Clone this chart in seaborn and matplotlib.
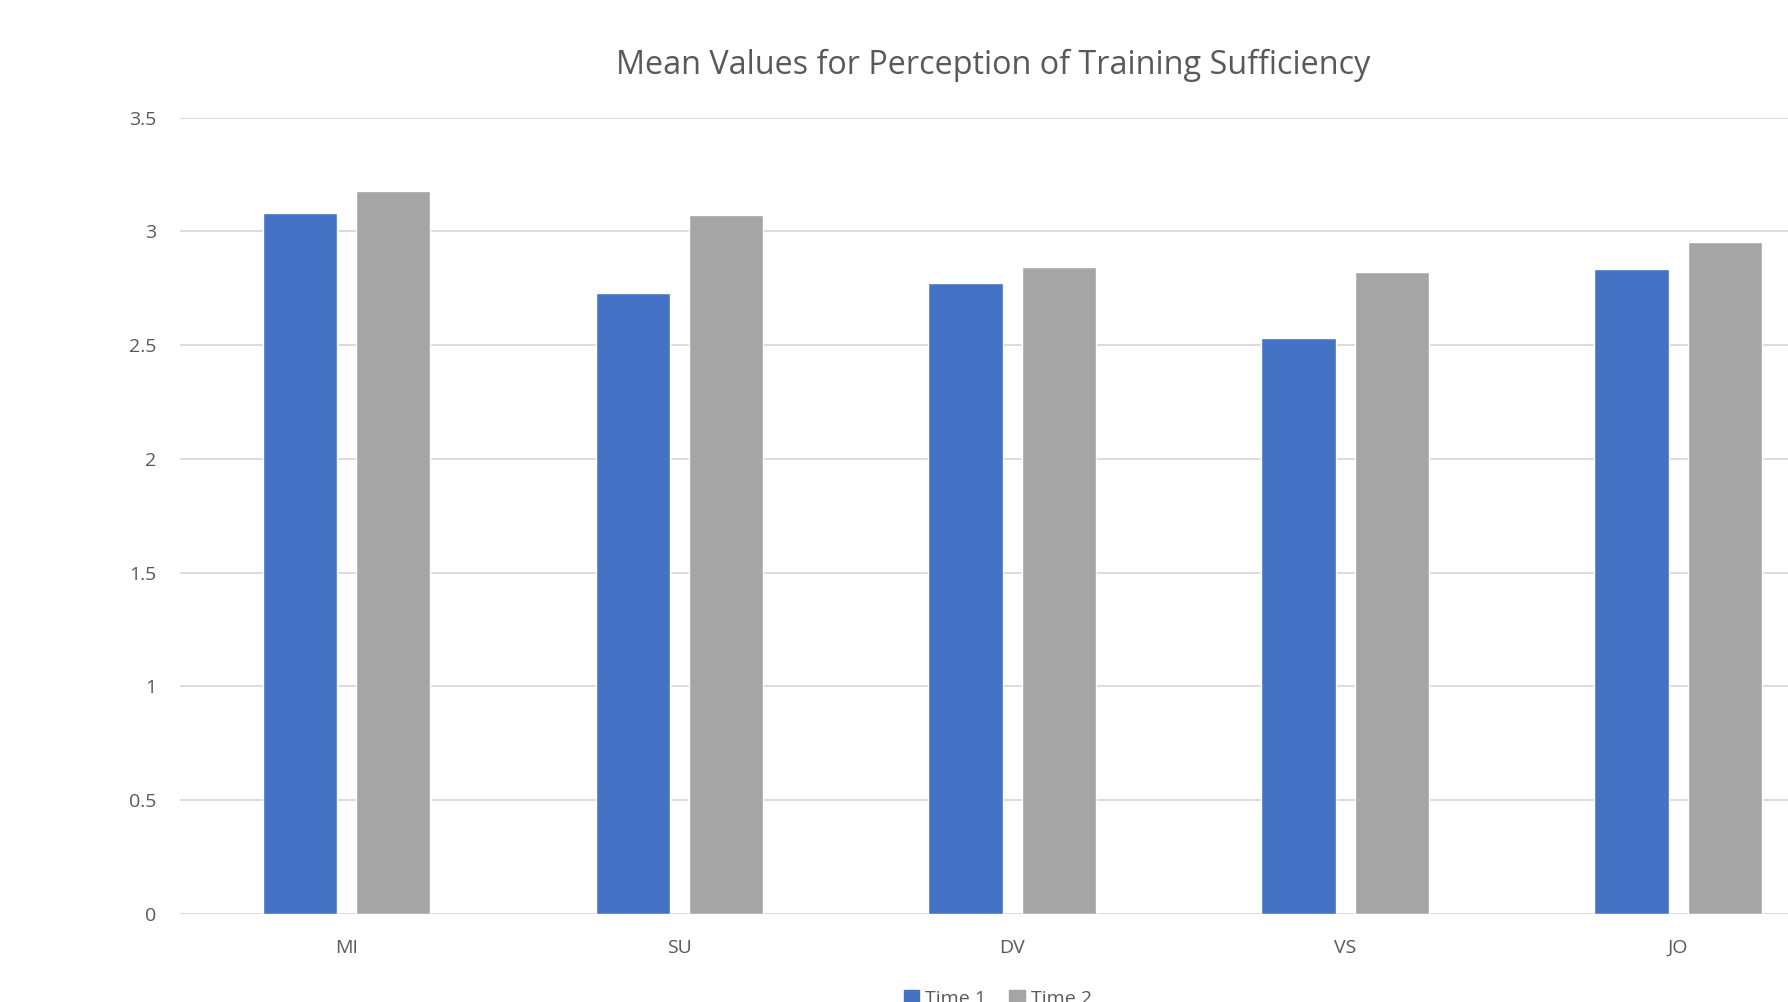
import pandas as pd
import matplotlib.pyplot as plt
import matplotlib.patches as mpatches
import seaborn as sns

# ======================================================
# Data
# ======================================================

categories = ["MI", "SU", "DV", "VS", "JO"]
time1 = [3.08, 2.73, 2.775, 2.53, 2.835]
time2 = [3.175, 3.07, 2.845, 2.82, 2.955]
series = ["Time 1", "Time 2"]
colors = ["#4472C4", "#A5A5A5"]

df = pd.DataFrame({
    "category": categories * 2,
    "value": time1 + time2,
    "time": [series[0]] * len(categories) + [series[1]] * len(categories),
})

# ======================================================
# Plot
# ======================================================

sns.set_style("white")
plt.rcParams["font.family"] = ["Open Sans", "DejaVu Sans"]

text_color = "#595959"
grid_color = "#D9D9D9"

fig = plt.figure(figsize=(17.88, 10.02), dpi=100)
ax = fig.add_axes([0.1007, 0.0878, 0.931, 0.7949])

sns.barplot(
    data=df,
    x="category",
    y="value",
    hue="time",
    palette=colors,
    width=0.562,
    gap=0.207,
    saturation=1,
    legend=False,
    ax=ax,
    zorder=3,
)

ax.set_xlim(-0.5, 4.5)
ax.set_ylim(0, 3.5)
ax.set_yticks([0, 0.5, 1, 1.5, 2, 2.5, 3, 3.5])
ax.set_yticklabels(["0", "0.5", "1", "1.5", "2", "2.5", "3", "3.5"])

ax.grid(axis="y", color=grid_color, linewidth=1.3, zorder=0)
ax.set_axisbelow(True)
for s in ax.spines.values():
    s.set_visible(False)

ax.tick_params(axis="y", length=0, pad=17, labelsize=14, labelcolor=text_color)
ax.tick_params(axis="x", length=0, pad=18, labelsize=14, labelcolor=text_color)
ax.set_xlabel("")
ax.set_ylabel("")

fig.text(0.5557, 0.935, "Mean Values for Perception of Training Sufficiency",
         ha="center", va="center", fontsize=23.3, color=text_color)

handles = [mpatches.Patch(color=c, label=l) for c, l in zip(colors, series)]
fig.legend(
    handles=handles,
    loc="center",
    bbox_to_anchor=(0.558, 0.003),
    ncol=2,
    frameon=False,
    fontsize=14,
    labelcolor=text_color,
    handlelength=0.8,
    handleheight=0.8,
    handletextpad=0.3,
    columnspacing=1.2,
)

plt.savefig("out.png", dpi=100)
